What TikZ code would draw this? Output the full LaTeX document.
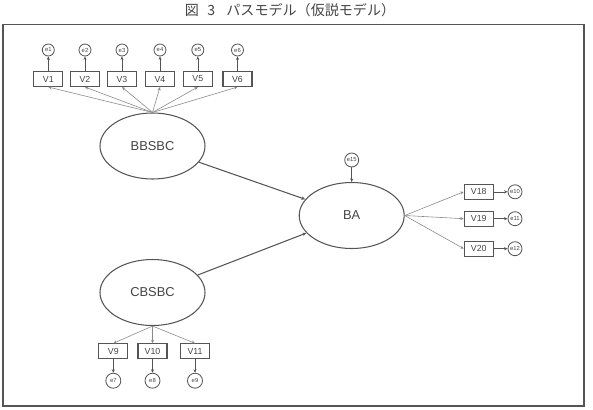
\documentclass[tikz,border=0pt]{standalone}
\usepackage{fontspec}
\setmainfont{Liberation Sans}
\newfontfamily\cjk{Noto Sans CJK JP}
\usetikzlibrary{arrows.meta,shapes.geometric}
\definecolor{lc}{HTML}{555555}
\definecolor{tc}{HTML}{444444}
\definecolor{thin}{HTML}{8A8A8A}
\begin{document}
\begin{tikzpicture}[x=0.03cm,y=-0.03cm,
  obs/.style={draw=lc,line width=0.9pt,minimum width=0.87cm,minimum height=0.45cm,inner sep=0pt,text=tc,font=\fontsize{7.5}{8}\selectfont},
  err/.style={draw=lc,line width=0.7pt,circle,minimum size=#1,inner sep=0pt,text=tc,font=\fontsize{5}{5}\selectfont},
  err/.default=0.36cm,
  lat/.style={draw=lc,line width=0.9pt,ellipse,minimum width=3.15cm,minimum height=1.98cm,inner sep=0pt,text=tc,font=\fontsize{11}{12}\selectfont},
  ar/.style={-{Stealth[length=3pt,width=2.6pt]},draw=thin,line width=0.5pt},
  sar/.style={-{Stealth[length=3pt,width=2.6pt]},draw=lc,line width=0.5pt},
  main/.style={-{Stealth[length=3.5pt,width=3pt]},draw=lc,line width=0.9pt}]
\useasboundingbox (0,0) rectangle (593,409);
\node[text=tc,font=\cjk\fontsize{12}{14}\selectfont] (title) at (290,10) {図\hspace{0.6em}3\hspace{0.8em}パスモデル（仮説モデル）};
\draw[draw=lc,line width=1pt] (3,24.5) rectangle (584,406);
% latent
\node[lat] (BB) at (152.5,146) {BBSBC};
\node[lat] (CB) at (152.5,292.5) {CBSBC};
\node[lat] (BA) at (351.7,215.5) {BA};
% top indicators
\foreach \i/\x in {1/48.3,2/85,3/122,4/160,5/197.8,6/237.5}{
  \node[obs] (V\i) at (\x,79) {V\i};
  \node[err] (e\i) at (\x,50) {e\i};
  \draw[sar] (V\i) -- (e\i);
  \draw[ar] (BB.north) -- (V\i.south);
}
% bottom indicators
\foreach \i/\x/\e in {9/113.3/7,10/152.5/8,11/195/9}{
  \node[obs] (V\i) at (\x,351.3) {V\i};
  \node[err=0.45cm] (e\e) at (\x,380.7) {e\e};
  \draw[sar] (V\i) -- (e\e);
  \draw[ar] (CB.south) -- (V\i.north);
}
% right indicators
\foreach \i/\y/\e in {18/191.8/10,19/218.7/11,20/248.7/12}{
  \node[obs] (V\i) at (478.8,\y) {V\i};
  \node[err=0.42cm] (e\e) at (515,\y) {e\e};
  \draw[sar] (V\i) -- (e\e);
  \draw[ar] (BA.east) -- (V\i.west);
}
% e15
\node[err=0.42cm] (e15) at (351.7,160) {e15};
\draw[sar] (e15) -- (BA);
% structural
\draw[main] (BB) -- (BA);
\draw[main] (CB) -- (BA);
\end{tikzpicture}
\end{document}
